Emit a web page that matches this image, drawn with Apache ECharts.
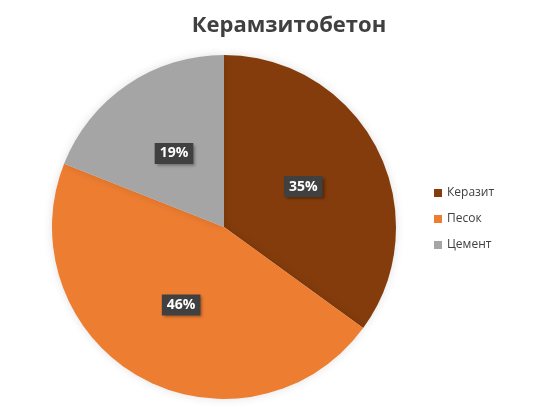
<!DOCTYPE html>
<html><head><meta charset="utf-8">
<script src="https://cdn.jsdelivr.net/npm/echarts@6/dist/echarts.min.js"></script>
<style>html,body{margin:0;padding:0;background:#fff}#c{width:539px;height:408px}</style>
</head><body><div id="c"></div>
<script>
const categories = ['Керазит', 'Песок', 'Цемент'];
const values = [35, 46, 19];
const colors = ['#843C0C', '#ED7D31', '#A5A5A5'];

const chart = echarts.init(document.getElementById('c'));
chart.setOption({
  animation: false,
  title: {
    text: 'Керамзитобетон',
    left: 284, top: 10, textAlign: 'center',
    textStyle: { fontFamily: 'Open Sans', fontWeight: 'bold', fontSize: 22, color: '#404040' }
  },
  legend: {
    orient: 'vertical', left: 429, top: 182,
    itemWidth: 8, itemHeight: 8, itemGap: 14, icon: 'rect',
    textStyle: { fontFamily: 'Open Sans', fontSize: 12, color: '#404040' },
    data: categories
  },
  series: [{
    type: 'pie',
    center: [224, 227],
    radius: [0, 172],
    startAngle: 90,
    clockwise: true,
    label: {
      show: true, position: 'inside',
      formatter: '{d}%',
      color: '#fff', fontWeight: 'bold', fontSize: 14, fontFamily: 'Open Sans',
      backgroundColor: '#404040', padding: [4, 5, 3, 5],
      shadowColor: 'rgba(0,0,0,0.4)', shadowBlur: 3, shadowOffsetX: 2, shadowOffsetY: 2
    },
    labelLine: { show: false },
    itemStyle: { borderWidth: 0, shadowColor: 'rgba(0,0,0,0.12)', shadowBlur: 10 },
    emphasis: { disabled: true },
    data: categories.map((n, i) => ({ name: n, value: values[i], itemStyle: { color: colors[i] } }))
  }]
});
</script></body></html>
